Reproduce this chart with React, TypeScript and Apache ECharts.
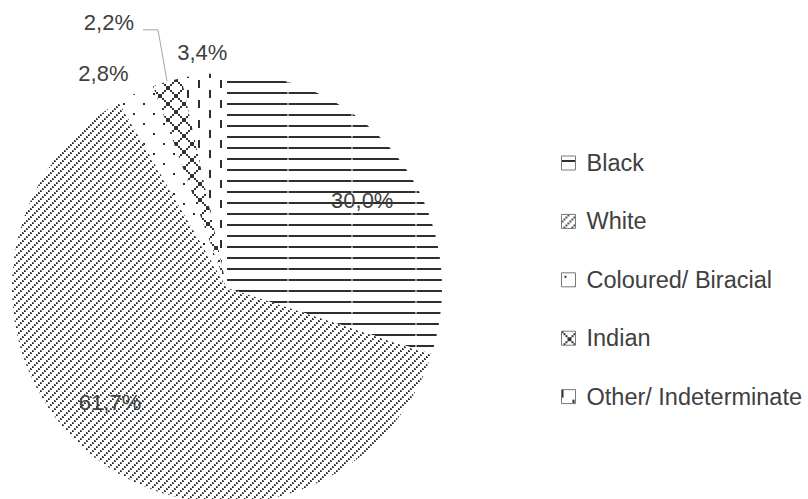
import React, { useEffect, useRef } from "react";
import * as echarts from "echarts";

// Population shares by group (percent)
const categories = ["Black", "White", "Coloured/ Biracial", "Indian", "Other/ Indeterminate"];
const shares = [30.0, 61.7, 2.8, 2.2, 3.4];

// Label placement in polar terms: angle clockwise from 12 o'clock (deg), radius as fraction of pie radius
const labelAngles = [57, 225.5, 330, 336, 354];
const labelRadii = [0.75, 0.763, 1.15, 1.35, 1.1];

const W = 808;
const H = 499;
const CX = 227;
const CY = 288;
const R = 215;
const INK = "#404040";
const FONT = "'Liberation Sans', Arial, sans-serif";

type Tile = { image: HTMLCanvasElement; repeat: string; imageWidth: number; imageHeight: number };

function tile(w: number, h: number, draw: (ctx: CanvasRenderingContext2D) => void): Tile {
  const c = document.createElement("canvas");
  c.width = w;
  c.height = h;
  const ctx = c.getContext("2d")!;
  ctx.fillStyle = "#ffffff";
  ctx.fillRect(0, 0, w, h);
  draw(ctx);
  return { image: c, repeat: "repeat", imageWidth: w, imageHeight: h };
}

function makePatterns(): Tile[] {
  // horizontal rules
  const black = tile(64, 11, (ctx) => {
    ctx.fillStyle = "#2e2e2e";
    ctx.fillRect(0, 4, 64, 2);
    ctx.fillStyle = "#9a9a9a";
    ctx.fillRect(31, 4, 2, 2);
  });
  // beaded diagonals
  const white = tile(8, 8, (ctx) => {
    for (let i = 0; i < 8; i += 2) {
      ctx.fillStyle = "#3a3a3a";
      ctx.fillRect(i, 6 - i, 2, 2);
      ctx.fillStyle = "#b0b0b0";
      ctx.fillRect(i + 1, 6 - i, 1, 1);
    }
  });
  // sparse dots
  const coloured = tile(20, 20, (ctx) => {
    ctx.fillStyle = "#333333";
    ctx.fillRect(3, 3, 2, 2);
    ctx.fillRect(13, 13, 2, 2);
  });
  // dotted crosshatch
  const indian = tile(16, 16, (ctx) => {
    ctx.fillStyle = "#333333";
    for (let i = 0; i < 16; i += 2) {
      ctx.fillRect(i, i, 2, 2);
      ctx.fillRect(i, 14 - i, 2, 2);
    }
  });
  // staggered vertical dashes
  const other = tile(22, 20, (ctx) => {
    ctx.fillStyle = "#2e2e2e";
    ctx.fillRect(0, 0, 2, 8);
    ctx.fillRect(11, 10, 2, 8);
  });
  return [black, white, coloured, indian, other];
}

function fmt(v: number): string {
  return v.toFixed(1).replace(".", ",") + "%";
}

export default function App() {
  const ref = useRef<HTMLDivElement>(null);

  useEffect(() => {
    document.body.style.margin = "0";
    if (!ref.current) return;
    const chart = echarts.init(ref.current, null, { renderer: "svg" });
    const patterns = makePatterns();
    const total = shares.reduce((a, b) => a + b, 0);

    const data = categories.map((name, i) => ({
      name,
      value: shares[i],
      itemStyle: { color: patterns[i] as any },
      labelLine: i === 3
        ? { show: true, lineStyle: { color: "#a6a6a6", width: 1 } }
        : { show: false },
    }));

    chart.setOption({
      animation: false,
      backgroundColor: "#ffffff",
      legend: {
        orient: "vertical",
        left: 556,
        top: 146,
        icon: "rect",
        itemWidth: 14,
        itemHeight: 14,
        itemGap: 34.4,
        itemStyle: { borderColor: "#7a7a7a", borderWidth: 1 },
        textStyle: { color: INK, fontSize: 23.5, lineHeight: 24, fontFamily: FONT, padding: [0, 0, 0, 6] },
        data: categories,
      },
      series: [
        {
          type: "pie",
          center: [CX, CY],
          radius: R,
          startAngle: 90,
          clockwise: true,
          avoidLabelOverlap: false,
          emphasis: { disabled: true },
          itemStyle: { borderWidth: 0 },
          label: {
            show: true,
            position: "outside",
            formatter: (p: any) => fmt(p.value),
            color: INK,
            fontSize: 22,
            fontFamily: FONT,
          },
          labelLine: { show: false },
          labelLayout: (params: any) => {
            const i = params.dataIndex;
            const a = (labelAngles[i] * Math.PI) / 180;
            const rr = R * labelRadii[i];
            const x = CX + rr * Math.sin(a);
            const y = CY - rr * Math.cos(a);
            const res: any = { x, y, align: "center", verticalAlign: "middle" };
            if (i === 3) {
              let before = 0;
              for (let k = 0; k < i; k++) before += shares[k];
              const mid = ((before + shares[i] / 2) / total) * 2 * Math.PI;
              const edge = [CX + R * Math.sin(mid), CY - R * Math.cos(mid)];
              const halfW = params.labelRect ? params.labelRect.width / 2 : 25;
              const end = [x + halfW + 9, y + 7];
              const elbow = [end[0] + 15, end[1]];
              res.labelLinePoints = [edge, elbow, end];
            }
            return res;
          },
          data,
        },
      ],
    });
    return () => chart.dispose();
  }, []);

  return <div ref={ref} style={{ width: W, height: H }} />;
}
